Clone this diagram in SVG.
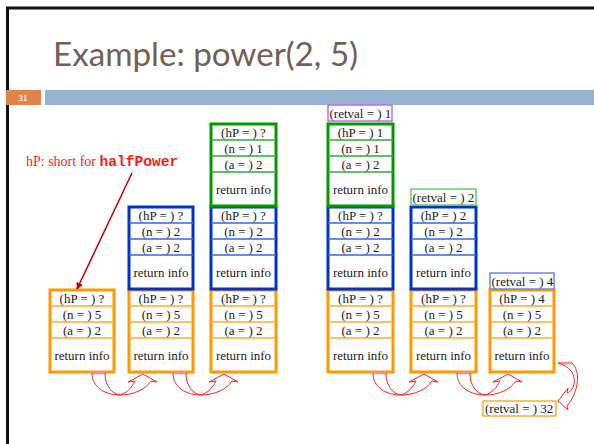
<svg xmlns="http://www.w3.org/2000/svg" width="594" height="444" viewBox="0 0 594 444">
<defs>
<style>
.t{font-family:"Liberation Serif","Times New Roman",serif;font-size:13px;fill:#222;text-anchor:middle}
.tl{font-family:"Liberation Serif","Times New Roman",serif;font-size:13px;fill:#222}
.fo{fill:#fff;stroke:#ff9900;stroke-width:3}
.fb{fill:#fff;stroke:#0033cc;stroke-width:3}
.fg{fill:#fff;stroke:#009900;stroke-width:3}
.do{stroke:#ffaa33;stroke-width:1.5}
.db{stroke:#3366dd;stroke-width:1.5}
.dg{stroke:#33aa33;stroke-width:1.5}
.ca{fill:none;stroke:#ff2020;stroke-width:1}
.tail{stroke:#f09090;stroke-width:2.5}
</style>
<marker id="ah" viewBox="0 0 10 10" refX="9" refY="5" markerWidth="7" markerHeight="7" orient="auto" markerUnits="userSpaceOnUse">
<path d="M0,0 L10,5 L0,10 z" fill="#c00000"/>
</marker>
<g id="curve">
<path class="tail" d="M0,0 L13,0"/>
<path class="ca" d="M0,0 C0,15 14,22 28,22 C42,22 54,16 59,8"/>
<path class="ca" d="M13,0 C13,13 20,21 28,22"/>
<path class="ca" d="M28,22 C35,20 40,14 43,8"/>
<path class="ca" d="M43,8 L36,9 L51,1 L65,9 L59,8"/>
</g>
</defs>
<rect width="594" height="444" fill="#fff"/>
<path d="M7.5,444 L7.5,8 L594,8" fill="none" stroke="#111" stroke-width="3"/>
<text x="53" y="66" font-family="Lato,'Open Sans',sans-serif" font-size="32" fill="#735f55" textLength="305" lengthAdjust="spacingAndGlyphs">Example: power(2, 5)</text>
<rect x="6" y="90" width="35" height="15" fill="#e0844a"/>
<text x="23" y="100.5" font-family="Liberation Serif,serif" font-size="9" font-weight="bold" fill="#fff" text-anchor="middle">31</text>
<rect x="45" y="90" width="549" height="15" fill="#94b4d1"/>

<g id="note">
<text x="26" y="166" font-family="Liberation Serif,serif" font-size="14" fill="#ff1a1a">hP: short for <tspan font-family="Liberation Mono,monospace" font-weight="bold" font-size="14.6">halfPower</tspan></text>
</g>

<g id="c1-main" transform="translate(50,290)">
<rect class="fo" width="64" height="82"/>
<line class="do" x1="0" y1="16" x2="64" y2="16"/><line class="do" x1="0" y1="32" x2="64" y2="32"/><line class="do" x1="0" y1="48" x2="64" y2="48"/>
<text class="t" x="32" y="12.5">(hP = ) ?</text><text class="t" x="32" y="28.5">(n = ) 5</text><text class="t" x="32" y="44.5">(a = ) 2</text><text class="t" x="32" y="69.5">return info</text>
</g>

<g id="c2-main" transform="translate(129,290)">
<rect class="fo" width="64" height="82"/>
<line class="do" x1="0" y1="16" x2="64" y2="16"/><line class="do" x1="0" y1="32" x2="64" y2="32"/><line class="do" x1="0" y1="48" x2="64" y2="48"/>
<text class="t" x="32" y="12.5">(hP = ) ?</text><text class="t" x="32" y="28.5">(n = ) 5</text><text class="t" x="32" y="44.5">(a = ) 2</text><text class="t" x="32" y="69.5">return info</text>
</g>
<g id="c2-hp5" transform="translate(129,207)">
<rect class="fb" width="64" height="82"/>
<line class="db" x1="0" y1="16" x2="64" y2="16"/><line class="db" x1="0" y1="32" x2="64" y2="32"/><line class="db" x1="0" y1="48" x2="64" y2="48"/>
<text class="t" x="32" y="12.5">(hP = ) ?</text><text class="t" x="32" y="28.5">(n = ) 2</text><text class="t" x="32" y="44.5">(a = ) 2</text><text class="t" x="32" y="69.5">return info</text>
</g>

<g id="c3-main" transform="translate(211,290)">
<rect class="fo" width="65" height="82"/>
<line class="do" x1="0" y1="16" x2="65" y2="16"/><line class="do" x1="0" y1="32" x2="65" y2="32"/><line class="do" x1="0" y1="48" x2="65" y2="48"/>
<text class="t" x="32.5" y="12.5">(hP = ) ?</text><text class="t" x="32.5" y="28.5">(n = ) 5</text><text class="t" x="32.5" y="44.5">(a = ) 2</text><text class="t" x="32.5" y="69.5">return info</text>
</g>
<g id="c3-hp5" transform="translate(211,207)">
<rect class="fb" width="65" height="82"/>
<line class="db" x1="0" y1="16" x2="65" y2="16"/><line class="db" x1="0" y1="32" x2="65" y2="32"/><line class="db" x1="0" y1="48" x2="65" y2="48"/>
<text class="t" x="32.5" y="12.5">(hP = ) ?</text><text class="t" x="32.5" y="28.5">(n = ) 2</text><text class="t" x="32.5" y="44.5">(a = ) 2</text><text class="t" x="32.5" y="69.5">return info</text>
</g>
<g id="c3-hp2" transform="translate(211,124)">
<rect class="fg" width="65" height="82"/>
<line class="dg" x1="0" y1="16" x2="65" y2="16"/><line class="dg" x1="0" y1="32" x2="65" y2="32"/><line class="dg" x1="0" y1="48" x2="65" y2="48"/>
<text class="t" x="32.5" y="12.5">(hP = ) ?</text><text class="t" x="32.5" y="28.5">(n = ) 1</text><text class="t" x="32.5" y="44.5">(a = ) 2</text><text class="t" x="32.5" y="69.5">return info</text>
</g>

<g id="c4-main" transform="translate(328,290)">
<rect class="fo" width="65" height="82"/>
<line class="do" x1="0" y1="16" x2="65" y2="16"/><line class="do" x1="0" y1="32" x2="65" y2="32"/><line class="do" x1="0" y1="48" x2="65" y2="48"/>
<text class="t" x="32.5" y="12.5">(hP = ) ?</text><text class="t" x="32.5" y="28.5">(n = ) 5</text><text class="t" x="32.5" y="44.5">(a = ) 2</text><text class="t" x="32.5" y="69.5">return info</text>
</g>
<g id="c4-hp5" transform="translate(328,207)">
<rect class="fb" width="65" height="82"/>
<line class="db" x1="0" y1="16" x2="65" y2="16"/><line class="db" x1="0" y1="32" x2="65" y2="32"/><line class="db" x1="0" y1="48" x2="65" y2="48"/>
<text class="t" x="32.5" y="12.5">(hP = ) ?</text><text class="t" x="32.5" y="28.5">(n = ) 2</text><text class="t" x="32.5" y="44.5">(a = ) 2</text><text class="t" x="32.5" y="69.5">return info</text>
</g>
<g id="c4-hp2" transform="translate(328,124)">
<rect class="fg" width="65" height="82"/>
<line class="dg" x1="0" y1="16" x2="65" y2="16"/><line class="dg" x1="0" y1="32" x2="65" y2="32"/><line class="dg" x1="0" y1="48" x2="65" y2="48"/>
<text class="t" x="32.5" y="12.5">(hP = ) 1</text><text class="t" x="32.5" y="28.5">(n = ) 1</text><text class="t" x="32.5" y="44.5">(a = ) 2</text><text class="t" x="32.5" y="69.5">return info</text>
</g>
<g id="c4-ret" transform="translate(328,105)">
<rect width="64" height="16" fill="#fff" stroke="#cc66ee" stroke-width="1.5"/>
<text class="tl" x="1.5" y="12.5">(retval = ) 1</text>
</g>

<g id="c5-main" transform="translate(411,290)">
<rect class="fo" width="65" height="82"/>
<line class="do" x1="0" y1="16" x2="65" y2="16"/><line class="do" x1="0" y1="32" x2="65" y2="32"/><line class="do" x1="0" y1="48" x2="65" y2="48"/>
<text class="t" x="32.5" y="12.5">(hP = ) ?</text><text class="t" x="32.5" y="28.5">(n = ) 5</text><text class="t" x="32.5" y="44.5">(a = ) 2</text><text class="t" x="32.5" y="69.5">return info</text>
</g>
<g id="c5-hp5" transform="translate(411,207)">
<rect class="fb" width="65" height="82"/>
<line class="db" x1="0" y1="16" x2="65" y2="16"/><line class="db" x1="0" y1="32" x2="65" y2="32"/><line class="db" x1="0" y1="48" x2="65" y2="48"/>
<text class="t" x="32.5" y="12.5">(hP = ) 2</text><text class="t" x="32.5" y="28.5">(n = ) 2</text><text class="t" x="32.5" y="44.5">(a = ) 2</text><text class="t" x="32.5" y="69.5">return info</text>
</g>
<g id="c5-ret" transform="translate(411,189)">
<rect width="65" height="16" fill="#fff" stroke="#66cc66" stroke-width="1.5"/>
<text class="tl" x="1.5" y="12.5">(retval = ) 2</text>
</g>

<g id="c6-main" transform="translate(490,290)">
<rect class="fo" width="64" height="82"/>
<line class="do" x1="0" y1="16" x2="64" y2="16"/><line class="do" x1="0" y1="32" x2="64" y2="32"/><line class="do" x1="0" y1="48" x2="64" y2="48"/>
<text class="t" x="32" y="12.5">(hP = ) 4</text><text class="t" x="32" y="28.5">(n = ) 5</text><text class="t" x="32" y="44.5">(a = ) 2</text><text class="t" x="32" y="69.5">return info</text>
</g>
<g id="c6-ret" transform="translate(490,273)">
<rect width="64" height="16" fill="#fff" stroke="#6688ee" stroke-width="1.5"/>
<text class="tl" x="1.5" y="12.5">(retval = ) 4</text>
</g>

<g id="final-ret" transform="translate(483,401)">
<rect width="73" height="15" fill="#fff" stroke="#ffaa33" stroke-width="1.5"/>
<text class="tl" x="2" y="12">(retval = ) 32</text>
</g>

<g id="connectors">
<line x1="132" y1="173" x2="77" y2="289" stroke="#c00000" stroke-width="1.5" marker-end="url(#ah)"/>
<use href="#curve" x="92" y="373"/>
<use href="#curve" x="173" y="373"/>
<use href="#curve" x="373" y="373"/>
<use href="#curve" x="457" y="373"/>
<g id="curve-final">
<path class="tail" d="M558,363 L572,363"/>
<path class="ca" d="M572,363 C580,370 580,390 567,406"/>
<path class="ca" d="M558,363 C570,366 576,375 574,384"/>
<path class="ca" d="M574,384 C573,389 570,392 567,393"/>
<path class="ca" d="M567,393 L568,388 L558,401 L568,410 L567,406"/>
</g>
</g>
</svg>
